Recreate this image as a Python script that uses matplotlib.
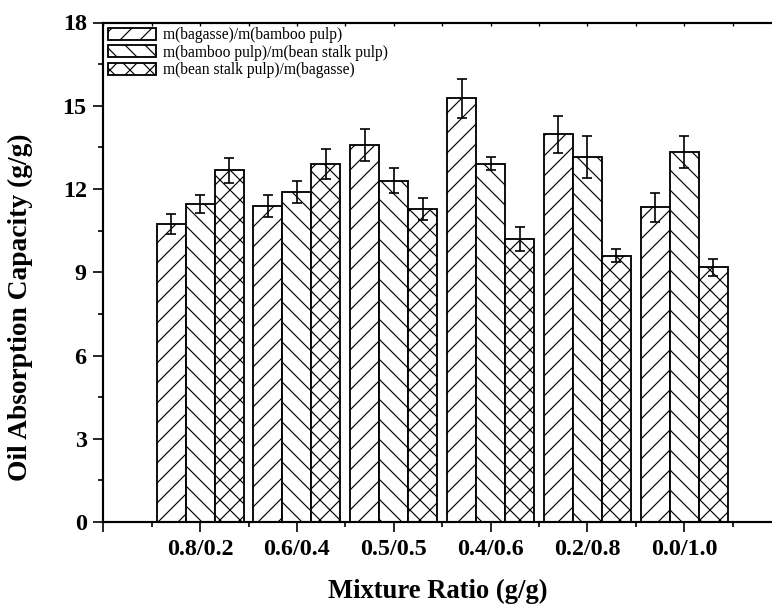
import matplotlib
matplotlib.use("Agg")
import matplotlib.pyplot as plt
import numpy as np
from matplotlib.ticker import MultipleLocator, FixedLocator

categories = ["0.8/0.2", "0.6/0.4", "0.5/0.5", "0.4/0.6", "0.2/0.8", "0.0/1.0"]
series_names = ["m(bagasse)/m(bamboo pulp)",
                "m(bamboo pulp)/m(bean stalk pulp)",
                "m(bean stalk pulp)/m(bagasse)"]
s1 = [10.73, 11.38, 13.58, 15.27, 13.97, 11.34]
e1 = [0.36, 0.40, 0.57, 0.70, 0.67, 0.52]
s2 = [11.47, 11.90, 12.29, 12.91, 13.16, 13.33]
e2 = [0.32, 0.40, 0.45, 0.24, 0.76, 0.59]
s3 = [12.67, 12.90, 11.28, 10.19, 9.59, 9.18]
e3 = [0.45, 0.53, 0.41, 0.44, 0.23, 0.30]
hatches = ["//", "\\\\", "xx"]

plt.rcParams["hatch.linewidth"] = 0.7
plt.rcParams["font.family"] = ["Liberation Serif", "DejaVu Serif"]

W, H = 772, 605
dpi = 120
fig = plt.figure(figsize=(W / dpi, H / dpi), dpi=dpi)
left_px, right_px, top_px, bot_px = 103.3, 781.0, 22.5, 522.0
ax = fig.add_axes([left_px / W, 1 - bot_px / H, (right_px - left_px) / W, (bot_px - top_px) / H])

x = np.arange(1, len(categories) + 1)
width = 0.3
for i, (vals, errs, hat, name) in enumerate(zip([s1, s2, s3], [e1, e2, e3], hatches, series_names)):
    ax.bar(x + (i - 1) * width, vals, width, yerr=errs, facecolor="white", edgecolor="black",
           linewidth=1.1, hatch=hat, label=name,
           error_kw=dict(ecolor="black", elinewidth=1.0, capsize=3.2, capthick=1.0))

ax.set_xlim(0, 7)
ax.set_ylim(0, 18)
ax.xaxis.set_major_locator(FixedLocator(np.arange(0, 8)))
ax.set_xticklabels([""] + categories + [""])
ax.xaxis.set_minor_locator(FixedLocator(np.arange(0.5, 7.5, 1)))
ax.yaxis.set_major_locator(MultipleLocator(3))
ax.yaxis.set_minor_locator(MultipleLocator(1.5))

for sp in ["left", "bottom", "top"]:
    ax.spines[sp].set_linewidth(1.3)
ax.spines["right"].set_visible(False)

ax.tick_params(axis="both", which="major", direction="out", length=6, width=1.0,
               labelsize=14.5, pad=4)
ax.tick_params(axis="both", which="minor", direction="out", length=3, width=1.0)
for lab in ax.get_xticklabels() + ax.get_yticklabels():
    lab.set_fontweight("bold")

ax2 = ax.twiny()
ax2.set_xlim(ax.get_xlim())
ax2.xaxis.set_major_locator(FixedLocator(np.arange(0, 8)))
ax2.xaxis.set_minor_locator(FixedLocator(np.arange(0.5, 7.5, 1)))
ax2.tick_params(axis="x", which="both", direction="in", length=2, width=0.8, labeltop=False)
for sp in ax2.spines.values():
    sp.set_visible(False)

ax.set_ylabel("Oil Absorption Capacity (g/g)", fontsize=16.5, fontweight="bold")
ax.yaxis.set_label_coords(-0.103, 0.43)
ax.set_xlabel("Mixture Ratio (g/g)", fontsize=16, fontweight="bold")
ax.xaxis.set_label_coords(0.494, -0.114)

leg = ax.legend(loc="upper left", frameon=False, fontsize=9.4, handlelength=3.05,
                handleheight=0.8, handletextpad=0.45, labelspacing=0.1,
                borderaxespad=0.3, borderpad=0.0)

fig.savefig("out.png", dpi=dpi)
